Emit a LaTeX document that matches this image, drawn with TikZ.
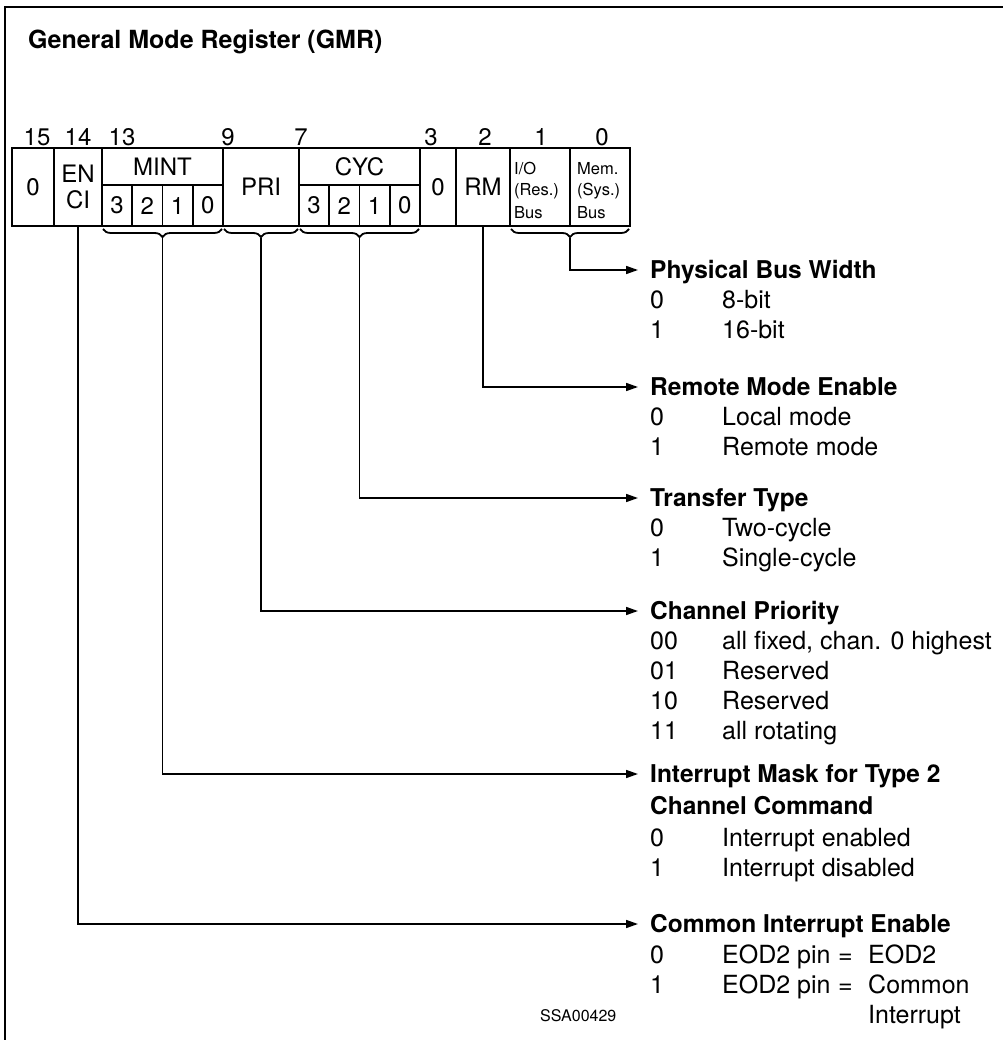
\documentclass[tikz,border=0pt]{standalone}
\usepackage{fontspec}
\setmainfont{TeX Gyre Heros}
\usetikzlibrary{arrows.meta,decorations.pathreplacing}
\begin{document}
\begin{tikzpicture}[x=1pt,y=-1pt,
  lw/.style={line width=1.8pt},
  cell/.style={draw, line width=1.8pt, inner sep=0pt, font=\fontsize{24}{28}\selectfont},
  txt/.style={inner sep=0pt, text height=17pt, text depth=0pt, font=\fontsize{24}{28}\selectfont},
  small/.style={inner sep=0pt, font=\fontsize{16.5}{18}\selectfont},
  hdr/.style={txt, anchor=west, font=\fontsize{24.5}{28}\selectfont\bfseries},
  lft/.style={txt, anchor=west, font=\fontsize{25}{28}\selectfont},
  brc/.style={lw, decorate, decoration={brace, mirror, amplitude=8pt}},
  arr/.style={line width=1.6pt, -{Triangle[length=12pt,width=8pt]}}
]
\useasboundingbox (0,0) rectangle (1003,1040);
% frame
\draw[line width=2.5pt] (5,1040) -- (5,7) -- (1003,7);
% title
\node[hdr, font=\fontsize{25}{28}\selectfont\bfseries] (title) at (28,40) {General Mode Register (GMR)};
% bit numbers
\node[txt] (n15) at (37,137) {15};
\node[txt] (n14) at (78,137) {14};
\node[txt] (n13) at (122,137) {13};
\node[txt] (n9) at (228,137) {9};
\node[txt] (n7) at (301,137) {7};
\node[txt] (n3) at (431,137) {3};
\node[txt] (n2) at (485,137) {2};
\node[txt] (n1) at (541,137) {1};
\node[txt] (n0) at (602,137) {0};
% register cells
\node[cell, minimum width=42pt, minimum height=78pt] (b15) at (33,187) {0};
\node[cell, minimum width=48pt, minimum height=78pt] (b14) at (78,187) {};
\node[txt] (en) at (78,174) {EN};
\node[txt] (ci) at (78,200) {CI};
\node[cell, minimum width=121pt, minimum height=37pt] (mint) at (162.5,166.5) {MINT};
\node[cell, minimum width=30.25pt, minimum height=41pt] (m3) at (117.1,205.5) {3};
\node[cell, minimum width=30.25pt, minimum height=41pt] (m2) at (147.4,205.5) {2};
\node[cell, minimum width=30.25pt, minimum height=41pt] (m1) at (177.6,205.5) {1};
\node[cell, minimum width=30.25pt, minimum height=41pt] (m0) at (207.9,205.5) {0};
\node[cell, minimum width=76pt, minimum height=78pt] (pri) at (261,187) {PRI};
\node[cell, minimum width=121pt, minimum height=37pt] (cyc) at (359.5,166.5) {CYC};
\node[cell, minimum width=30.25pt, minimum height=41pt] (c3) at (314.1,205.5) {3};
\node[cell, minimum width=30.25pt, minimum height=41pt] (c2) at (344.4,205.5) {2};
\node[cell, minimum width=30.25pt, minimum height=41pt] (c1) at (374.6,205.5) {1};
\node[cell, minimum width=30.25pt, minimum height=41pt] (c0) at (404.9,205.5) {0};
\node[cell, minimum width=36pt, minimum height=78pt] (b3) at (438,187) {0};
\node[cell, minimum width=54pt, minimum height=78pt] (rm) at (483,187) {RM};
\node[cell, minimum width=60pt, minimum height=78pt] (io) at (540,187) {};
\node[cell, minimum width=60pt, minimum height=78pt] (mem) at (600,187) {};
\node[small, anchor=west] (io1) at (514,169) {I/O};
\node[small, anchor=west] (io2) at (514,191) {(Res.)};
\node[small, anchor=west] (io3) at (514,213) {Bus};
\node[small, anchor=west] (me1) at (577,169) {Mem.};
\node[small, anchor=west] (me2) at (577,191) {(Sys.)};
\node[small, anchor=west] (me3) at (577,213) {Bus};
% braces
\draw[brc] (103,229) -- (222,229);
\coordinate (tmint) at (162.5,238);
\draw[brc] (224,229) -- (298,229);
\coordinate (tpri) at (261,238);
\draw[brc] (300,229) -- (419,229);
\coordinate (tcyc) at (359.5,238);
\draw[brc] (511,229) -- (629,229);
\coordinate (tbus) at (570,238);
% right-hand descriptions
\node[hdr] (hpb) at (650,270) {Physical Bus Width};
\node[lft] (k1a) at (650,300) {0}; \node[lft] (v1a) at (722,300) {8-bit};
\node[lft] (k1b) at (650,330) {1}; \node[lft] (v1b) at (722,330) {16-bit};
\node[hdr] (hrm) at (650,387) {Remote Mode Enable};
\node[lft] (k2a) at (650,417) {0}; \node[lft] (v2a) at (722,417) {Local mode};
\node[lft] (k2b) at (650,447) {1}; \node[lft] (v2b) at (722,447) {Remote mode};
\node[hdr] (htt) at (650,498) {Transfer Type};
\node[lft] (k3a) at (650,528) {0}; \node[lft] (v3a) at (722,528) {Two-cycle};
\node[lft] (k3b) at (650,558) {1}; \node[lft] (v3b) at (722,558) {Single-cycle};
\node[hdr] (hcp) at (650,611) {Channel Priority};
\node[lft] (k4a) at (650,641) {00}; \node[lft] (v4a) at (722,641) {all fixed, chan. 0 highest};
\node[lft] (k4b) at (650,671) {01}; \node[lft] (v4b) at (722,671) {Reserved};
\node[lft] (k4c) at (650,701) {10}; \node[lft] (v4c) at (722,701) {Reserved};
\node[lft] (k4d) at (650,731) {11}; \node[lft] (v4d) at (722,731) {all rotating};
\node[hdr] (him) at (650,774) {Interrupt Mask for Type 2};
\node[hdr] (him2) at (650,806) {Channel Command};
\node[lft] (k5a) at (650,838) {0}; \node[lft] (v5a) at (722,838) {Interrupt enabled};
\node[lft] (k5b) at (650,868) {1}; \node[lft] (v5b) at (722,868) {Interrupt disabled};
\node[hdr] (hci) at (650,924) {Common Interrupt Enable};
\node[lft] (k6a) at (650,955) {0}; \node[lft] (v6a) at (722,955) {EOD2 pin};
\node[lft] (e6a) at (838,955) {=}; \node[lft] (w6a) at (868,955) {EOD2};
\node[lft] (k6b) at (650,985) {1}; \node[lft] (v6b) at (722,985) {EOD2 pin};
\node[lft] (e6b) at (838,985) {=}; \node[lft] (w6b) at (868,985) {Common};
\node[lft] (w6c) at (868,1015) {Interrupt};
\node[small, anchor=west, text height=11pt, font=\fontsize{16}{18}\selectfont] (ssa) at (540,1016) {SSA00429};
% connectors
\draw[arr] (tbus) |- ([xshift=-12pt]hpb.west);
\draw[arr] (rm.south) |- ([xshift=-12pt]hrm.west);
\draw[arr] (tcyc) |- ([xshift=-12pt]htt.west);
\draw[arr] (tpri) |- ([xshift=-12pt]hcp.west);
\draw[arr] (tmint) |- ([xshift=-12pt]him.west);
\draw[arr] (b14.south) |- ([xshift=-12pt]hci.west);
\end{tikzpicture}
\end{document}
